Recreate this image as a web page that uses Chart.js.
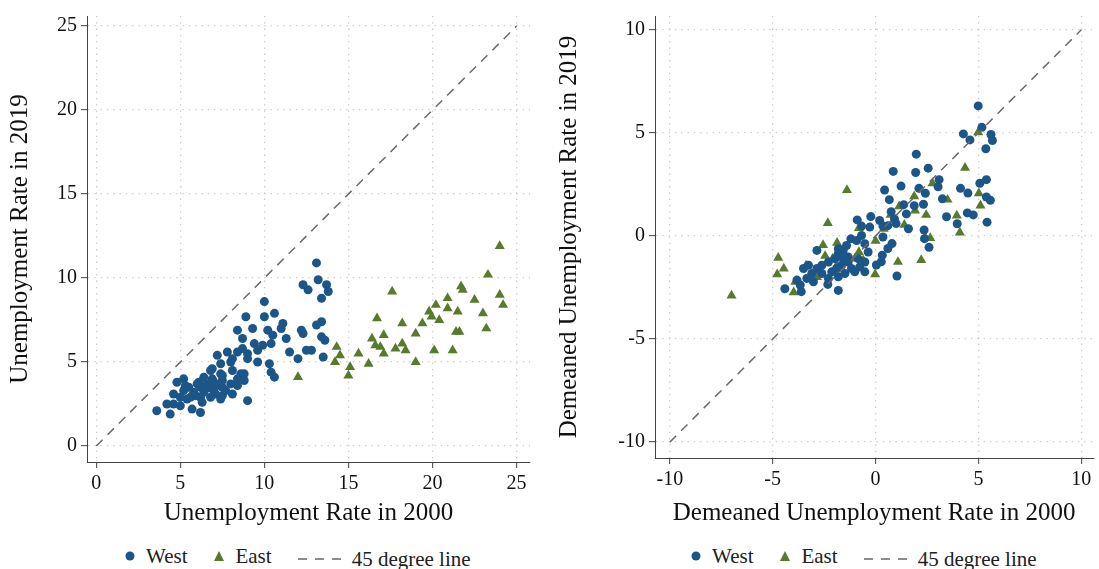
<!DOCTYPE html>
<html><head><meta charset="utf-8">
<script src="https://cdn.jsdelivr.net/npm/chart.js@4"></script>
<style>
body{margin:0;background:#fff;width:1099px;height:569px;overflow:hidden;font-family:"Liberation Serif",serif;}
.box{position:absolute;top:0;height:530px;}
.leg{position:absolute;top:543px;font-size:21px;color:#222;white-space:nowrap;}
.leg span{margin-right:26px;display:inline-flex;align-items:center;}
.leg svg{margin-right:10px;}
</style></head><body>
<div class="box" style="left:0;width:545px"><canvas id="c1"></canvas></div>
<div class="box" style="left:549px;width:550px"><canvas id="c2"></canvas></div>
<div class="leg" style="left:124px"><span><svg width="12" height="12"><circle cx="6" cy="6" r="4.5" fill="#1c5689"/></svg>West</span><span><svg width="12" height="12"><polygon points="6,1 11,11 1,11" fill="#587a2c"/></svg>East</span><span><svg width="44" height="6"><line x1="0" y1="3" x2="44" y2="3" stroke="#666" stroke-width="1.5" stroke-dasharray="9,8"/></svg>45 degree line</span></div>
<div class="leg" style="left:690px"><span><svg width="12" height="12"><circle cx="6" cy="6" r="4.5" fill="#1c5689"/></svg>West</span><span><svg width="12" height="12"><polygon points="6,1 11,11 1,11" fill="#587a2c"/></svg>East</span><span><svg width="44" height="6"><line x1="0" y1="3" x2="44" y2="3" stroke="#666" stroke-width="1.5" stroke-dasharray="9,8"/></svg>45 degree line</span></div>
<script>
// left panel: levels
const westLevels = [[13.1,10.9],[13.2,9.9],[12.3,9.6],[12.6,9.3],[13.7,9.6],[13.8,9.2],[13.4,8.8],[11.1,7.3],[11.0,7.0],[11.3,6.4],[12.2,6.9],[12.3,6.7],[13.1,7.2],[13.4,7.4],[13.4,6.5],[13.6,6.3],[12.5,5.7],[12.8,5.7],[11.5,5.6],[12.0,5.2],[13.5,5.3],
[10.0,8.6],[8.9,7.7],[10.0,7.7],[10.6,7.9],[8.4,6.9],[9.3,7.0],[10.2,6.9],[10.5,6.6],[8.7,6.4],[9.4,6.1],[10.4,6.1],[9.9,6.0],[7.8,5.6],[8.4,5.6],[8.7,5.8],[9.0,5.5],[9.6,5.7],[7.2,5.4],[8.1,5.2],[9.0,5.2],[7.4,4.9],[8.0,5.0],[9.6,5.0],[10.3,4.9],[10.4,4.4],[10.6,4.1],
[6.8,4.5],[7.4,4.3],[8.1,4.5],[8.6,4.3],[8.8,4.3],[5.2,4.0],[6.4,4.1],[6.9,4.0],[7.5,3.9],[8.4,4.0],[8.8,3.9],[6.0,3.7],[6.6,3.7],[7.2,3.6],[8.0,3.7],[8.4,3.6],[5.5,3.5],[6.2,3.5],[6.9,3.4],[7.5,3.5],[5.2,3.3],[5.8,3.2],[6.4,3.2],[7.1,3.1],[7.5,3.0],[8.1,3.1],
[4.6,3.1],[5.0,2.9],[5.6,2.9],[6.2,2.9],[6.8,2.9],[7.4,2.8],[4.2,2.5],[4.6,2.5],[5.0,2.4],[5.7,2.2],[9.0,2.7],[3.6,2.1],[4.4,1.9],[6.2,2.0],[6.1,3.8],[6.9,4.6],[7.5,4.2],[5.4,2.8],[4.8,3.8],[5.9,3.0],[6.5,3.4],[7.0,3.8],[7.7,3.3],[6.3,2.6],[5.3,3.6]];
const eastLevels = [[24.0,11.9],[23.3,10.2],[21.7,9.5],[21.8,9.3],[24.0,9.0],[24.2,8.4],[22.5,8.7],[20.9,8.8],[20.9,8.2],[20.2,8.4],[19.8,8.0],[19.95,7.7],[20.4,7.5],[21.5,8.0],[23.0,7.9],[23.2,7.0],[21.4,6.8],[21.6,6.8],[19.4,7.3],[19.0,6.7],[18.2,7.3],[17.6,9.2],[16.7,7.6],[17.1,6.6],[16.4,6.4],[16.6,6.0],[16.9,5.9],[17.1,5.5],[17.8,5.8],[18.2,6.1],[18.4,5.7],[20.1,5.7],[21.2,5.7],[19.0,5.0],[15.6,5.5],[16.2,4.9],[15.1,4.7],[15.0,4.2],[14.3,5.9],[14.5,5.4],[14.2,5.0],[12.0,4.1]];
// right panel: demeaned
const westDemeaned = [[4.99,6.31],[5.17,5.27],[4.27,4.95],[4.59,4.66],[5.61,4.92],[5.68,4.63],[5.36,4.23],[1.98,3.97],[0.86,3.13],[1.95,3.08],[2.56,3.29],[3.09,2.73],[3.04,2.39],[0.44,2.23],[1.24,2.42],[2.11,2.31],[2.42,2.07],[0.67,1.76],[1.37,1.52],[1.88,1.47],[2.33,1.54],[3.25,1.8],[4.13,2.31],[4.49,2.08],[5.07,2.56],[5.39,2.73],[5.39,1.89],[5.58,1.73],[4.46,1.12],[4.75,1.02],[3.45,0.93],[3.97,0.59],[5.42,0.67],[0.76,1.18],[1.5,1.07],[0.92,0.83],[-0.89,0.78],[-0.23,0.94],[-0.68,0.48],[-0.28,0.43],[0.2,0.75],[0.36,0.48],[0.6,0.5],[1.0,0.6],[1.6,0.35],[2.36,0.29],[2.38,-0.13],[2.6,-0.55],[0.36,-0.05],[0.8,-0.37],[0.6,-0.61],[0.33,-0.93],[0.28,-1.25],[0.04,-1.41],[1.04,-1.94],[-0.68,0.02],[-1.2,-0.14],[-0.92,-0.22],[-0.52,-0.38],[-0.36,-0.78],[-1.41,-0.46],[-1.57,-0.7],[-1.81,-0.86],[-1.33,-1.02],[-0.85,-1.1],[-0.52,-1.26],[-0.52,-1.74],[-1.17,-1.58],[-1.97,-1.1],[-2.29,-1.26],[-2.61,-1.42],[-2.85,-0.7],[-2.85,-1.58],[-3.26,-1.42],[-3.5,-1.58],[-3.1,-1.82],[-2.61,-1.82],[-2.29,-2.06],[-1.81,-1.98],[-3.34,-2.06],[-3.82,-2.14],[-3.66,-2.38],[-3.02,-2.22],[-2.32,-2.35],[-4.41,-2.56],[-3.61,-2.7],[-1.81,-2.64],[-1.65,-1.42],[-1.89,-1.58],[-2.13,-1.74],[-1.49,-1.82],[-1.01,-1.74],[-0.77,-1.5],[-1.33,-1.26],[-1.57,-1.1],[-1.81,-0.62]];
const eastDemeaned = [[4.99,5.03],[4.35,3.31],[2.77,2.55],[3.5,1.76],[5.02,2.07],[5.1,1.47],[3.95,0.99],[4.1,0.16],[2.46,1.02],[1.92,1.23],[1.88,1.92],[1.15,1.44],[0.92,0.78],[1.4,0.54],[0.73,1.02],[0.4,0.35],[2.42,-0.1],[2.66,-0.1],[2.22,-1.17],[1.09,-1.26],[0.0,-0.24],[-0.02,-1.86],[-0.81,0.38],[-1.39,2.23],[-2.32,0.63],[-1.87,-0.33],[-2.55,-0.44],[-0.81,-0.78],[-1.01,-1.1],[-0.6,-1.18],[-2.08,-1.1],[-1.89,-1.44],[-2.45,-0.97],[-3.38,-1.44],[-2.85,-1.99],[-4.73,-1.06],[-4.46,-1.58],[-4.78,-1.86],[-3.9,-2.22],[-3.98,-2.73],[-7.0,-2.89]];
const line1 = [0, 25];
const line2 = [-10, 10];

const pts = a => a.map(p => ({x: p[0], y: p[1]}));
const font = {family: '"Liberation Serif", serif'};

function make(id, west, east, ln, xr, yr, xTitle, yTitle, fit) {
  const axis = (r, title, isX) => ({
    type: 'linear', min: r[0], max: r[1],
    afterBuildTicks: s => { s.ticks = r[2].map(v => ({value: v})); },
    grid: {color: '#c8c8c8', lineWidth: 1.3, drawTicks: true, tickLength: 6, tickColor: '#444', tickBorderDash: [], tickWidth: 1},
    border: {display: true, color: '#444', width: 1, dash: [1.3, 5]},
    ticks: {color: '#111', font: {...font, size: 20}, padding: 4,
      callback: v => v < 0 ? '-' + Math.abs(v) : v},
    title: {display: true, text: title, color: '#111', font: {...font, size: 25}, padding: {top: 5, bottom: 2}},
    afterFit: s => { if (isX) s.height = fit[1]; else s.width = fit[0]; }
  });
  new Chart(document.getElementById(id), {
    type: 'scatter',
    data: {datasets: [
      {label: '45 degree line', type: 'line', data: pts([[ln[0], ln[0]], [ln[1], ln[1]]]),
       borderColor: '#6a6a6a', borderWidth: 1.5, borderDash: [9, 7], pointRadius: 0},
      {label: 'West', data: pts(west), backgroundColor: '#1c5689', borderWidth: 0, pointRadius: 4.5},
      {label: 'East', data: pts(east), pointStyle: 'triangle', backgroundColor: '#587a2c', borderColor: '#587a2c', borderWidth: 0, pointRadius: 5.8}
    ]},
    options: {
      responsive: false, animation: false,
      layout: {padding: {top: 4, right: fit[2], left: 0, bottom: 0}},
      plugins: {legend: {display: false}, tooltip: {enabled: false}},
      scales: {x: axis(xr, xTitle, true), y: axis(yr, yTitle, false)}
    }
  });
}
document.getElementById('c1').width = 545; document.getElementById('c1').height = 530;
document.getElementById('c2').width = 550; document.getElementById('c2').height = 530;
make('c1', westLevels, eastLevels, line1, [-0.55, 25.8, [0, 5, 10, 15, 20, 25]], [-0.95, 25.6, [0, 5, 10, 15, 20, 25]],
  'Unemployment Rate in 2000', 'Unemployment Rate in 2019', [87, 68, 15]);
make('c2', westDemeaned, eastDemeaned, line2, [-10.72, 10.58, [-10, -5, 0, 5, 10]], [-10.77, 10.67, [-10, -5, 0, 5, 10]],
  'Demeaned Unemployment Rate in 2000', 'Demeaned Unemployment Rate in 2019', [106, 72, 2]);
</script></body></html>
